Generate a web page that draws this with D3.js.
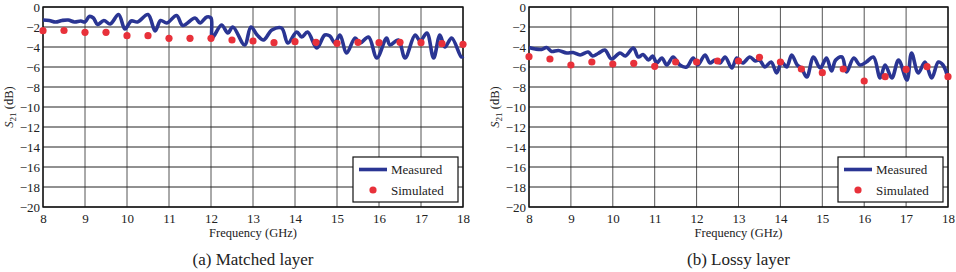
<!DOCTYPE html>
<html>
<head>
<meta charset="utf-8">
<script src="https://cdn.jsdelivr.net/npm/d3@7"></script>
<style>
  body { margin: 0; background: #fff; }
  svg { display: block; }
  svg text { font-family: "Liberation Serif", "Times New Roman", "DejaVu Serif", serif; }
</style>
</head>
<body>
<div id="chart"></div>
<script>
// frequency ticks and dB ticks
const freqTicks = [8, 9, 10, 11, 12, 13, 14, 15, 16, 17, 18];
const dbTicks = [0, -2, -4, -6, -8, -10, -12, -14, -16, -18, -20];

// simulated points every 0.5 GHz
const simFreq = [8, 8.5, 9, 9.5, 10, 10.5, 11, 11.5, 12, 12.5, 13, 13.5, 14, 14.5, 15, 15.5, 16, 16.5, 17, 17.5, 18];
const matchedSim = [-2.37, -2.35, -2.53, -2.53, -2.87, -2.87, -3.13, -3.13, -3.13, -3.3, -3.4, -3.57, -3.47, -3.53, -3.63, -3.53, -3.57, -3.53, -3.57, -3.67, -3.73];
const lossySim = [-4.97, -5.2, -5.8, -5.5, -5.7, -5.63, -5.93, -5.5, -5.5, -5.4, -5.4, -5.03, -5.5, -6.2, -6.57, -6.2, -7.4, -6.97, -6.23, -5.97, -6.97];

// measured traces
const matchedFreq = [8.0, 8.15, 8.3, 8.45, 8.6, 8.75, 8.9, 9.0, 9.1, 9.2, 9.3, 9.45, 9.6, 9.8, 9.95, 10.1, 10.25, 10.5, 10.67, 10.8, 10.95, 11.18, 11.33, 11.62, 11.74, 11.9, 12.0, 12.03, 12.25, 12.4, 12.52, 12.8, 12.95, 13.1, 13.25, 13.45, 13.68, 13.83, 14.04, 14.16, 14.3, 14.52, 14.71, 14.83, 14.95, 15.07, 15.23, 15.43, 15.55, 15.75, 15.95, 16.18, 16.26, 16.46, 16.62, 16.86, 16.98, 17.14, 17.3, 17.45, 17.57, 17.73, 17.96, 18.0];
const matchedMeas = [-1.3, -1.35, -1.5, -1.35, -1.3, -1.5, -1.4, -1.5, -0.95, -1.1, -1.75, -1.35, -1.7, -0.75, -2.2, -1.4, -1.5, -0.75, -2.4, -1.35, -1.6, -0.85, -1.85, -1.1, -1.6, -1.0, -1.1, -3.1, -1.8, -2.6, -2.0, -3.8, -2.0, -2.8, -3.3, -2.3, -2.1, -3.6, -2.5, -3.0, -2.5, -4.1, -2.8, -2.9, -3.6, -2.8, -4.6, -3.1, -3.6, -3.0, -5.1, -3.1, -3.8, -3.3, -5.1, -2.8, -3.4, -2.6, -5.1, -2.8, -4.0, -3.1, -5.0, -4.9];

const lossyFreq = [8.0, 8.15, 8.3, 8.42, 8.54, 8.7, 8.9, 9.05, 9.22, 9.41, 9.52, 9.65, 9.81, 9.97, 10.17, 10.3, 10.49, 10.61, 10.72, 10.85, 10.95, 11.05, 11.17, 11.29, 11.44, 11.6, 11.76, 11.92, 12.03, 12.2, 12.32, 12.44, 12.56, 12.68, 12.84, 12.96, 13.1, 13.27, 13.4, 13.5, 13.63, 13.78, 13.91, 14.03, 14.15, 14.27, 14.4, 14.5, 14.63, 14.79, 14.95, 15.1, 15.22, 15.32, 15.47, 15.58, 15.75, 15.9, 16.05, 16.22, 16.38, 16.5, 16.66, 16.82, 17.02, 17.13, 17.29, 17.45, 17.61, 17.77, 17.88, 18.0];
const lossyMeas = [-4.05, -4.2, -4.25, -4.05, -4.45, -4.35, -4.6, -4.55, -4.8, -4.5, -4.9, -4.65, -4.3, -5.2, -4.6, -4.9, -4.1, -5.0, -4.75, -5.3, -4.9, -5.6, -5.1, -5.8, -5.0, -5.8, -6.0, -5.1, -5.8, -4.8, -5.6, -5.3, -5.6, -5.0, -6.1, -5.1, -5.6, -5.0, -5.4, -5.3, -6.0, -5.5, -6.6, -5.5, -6.0, -4.8, -5.8, -6.1, -7.0, -5.0, -6.1, -5.1, -6.4, -5.3, -5.0, -6.5, -5.1, -5.8, -5.5, -5.0, -7.1, -5.8, -7.1, -5.3, -7.3, -4.6, -6.6, -5.5, -7.1, -5.5, -5.8, -7.1];

const legendLabels = ['Measured', 'Simulated'];
const captions = ['(a) Matched layer', '(b) Lossy layer'];

const panels = [
    { left: 43, right: 463, freq: matchedFreq, meas: matchedMeas, sim: matchedSim, caption: captions[0] },
    { left: 529, right: 948, freq: lossyFreq, meas: lossyMeas, sim: lossySim, caption: captions[1] },
];

const width = 956;
const height = 272;
const plotTop = 7;
const plotBottom = 207;
const serif = '"Liberation Serif", "Times New Roman", serif';
const blue = '#2a3593';
const red = '#e8313a';

const svg = d3.select('#chart')
    .append('svg')
    .attr('width', width)
    .attr('height', height)
    .attr('font-family', serif);

panels.forEach(p => {
    const x = d3.scaleLinear().domain([8, 18]).range([p.left, p.right]);
    const y = d3.scaleLinear().domain([-20, 0]).range([plotBottom, plotTop]);
    const g = svg.append('g');

    // grid
    g.append('g')
        .selectAll('line')
        .data(freqTicks)
        .join('line')
        .attr('x1', d => x(d)).attr('x2', d => x(d))
        .attr('y1', plotTop).attr('y2', plotBottom)
        .attr('stroke', '#555')
        .attr('stroke-width', 1);
    g.append('g')
        .selectAll('line')
        .data(dbTicks)
        .join('line')
        .attr('x1', p.left).attr('x2', p.right)
        .attr('y1', d => y(d)).attr('y2', d => y(d))
        .attr('stroke', '#222')
        .attr('stroke-width', 1);

    // axes (labels only, frame drawn separately)
    const xAxis = g.append('g')
        .attr('transform', `translate(0,${plotBottom})`)
        .call(d3.axisBottom(x).tickValues(freqTicks).tickSize(0).tickPadding(7));
    const yAxis = g.append('g')
        .attr('transform', `translate(${p.left},0)`)
        .call(d3.axisLeft(y).tickValues(dbTicks).tickSize(0).tickPadding(3));
    [xAxis, yAxis].forEach(a => {
        a.attr('font-family', serif).attr('font-size', 13);
        a.select('.domain').remove();
        a.selectAll('text').attr('fill', '#222');
    });

    g.append('rect')
        .attr('x', p.left).attr('y', plotTop)
        .attr('width', p.right - p.left).attr('height', plotBottom - plotTop)
        .attr('fill', 'none')
        .attr('stroke', '#111')
        .attr('stroke-width', 1.4);

    // measured
    const line = d3.line()
        .x((d, i) => x(p.freq[i]))
        .y(d => y(d))
        .curve(d3.curveCatmullRom.alpha(0.5));
    g.append('path')
        .datum(p.meas)
        .attr('d', line)
        .attr('fill', 'none')
        .attr('stroke', blue)
        .attr('stroke-width', 3.6)
        .attr('stroke-linejoin', 'round');

    // simulated
    g.append('g')
        .selectAll('circle')
        .data(p.sim)
        .join('circle')
        .attr('cx', (d, i) => x(simFreq[i]))
        .attr('cy', d => y(d))
        .attr('r', 3.6)
        .attr('fill', red);

    // labels
    g.append('text')
        .attr('x', (p.left + p.right) / 2)
        .attr('y', 237)
        .attr('text-anchor', 'middle')
        .attr('font-size', 12.5)
        .attr('fill', '#222')
        .text('Frequency (GHz)');

    const yl = g.append('text')
        .attr('transform', `translate(${p.left - 30},${(plotTop + plotBottom) / 2}) rotate(-90)`)
        .attr('text-anchor', 'middle')
        .attr('font-size', 12.5)
        .attr('fill', '#222');
    yl.append('tspan').attr('font-style', 'italic').text('S');
    yl.append('tspan').attr('font-size', 9).attr('dy', 3).text('21');
    yl.append('tspan').attr('dy', -3).text(' (dB)');

    g.append('text')
        .attr('x', (p.left + p.right) / 2)
        .attr('y', 265)
        .attr('text-anchor', 'middle')
        .attr('font-size', 17)
        .attr('fill', '#222')
        .text(p.caption);

    // legend
    const lx = p.right - 110;
    const leg = g.append('g').attr('transform', `translate(${lx},157)`);
    leg.append('rect')
        .attr('width', 105).attr('height', 45)
        .attr('fill', '#fff')
        .attr('stroke', '#111')
        .attr('stroke-width', 1.2);
    leg.append('line')
        .attr('x1', 6).attr('x2', 34)
        .attr('y1', 12.5).attr('y2', 12.5)
        .attr('stroke', blue)
        .attr('stroke-width', 3.6);
    leg.append('circle')
        .attr('cx', 20).attr('cy', 33)
        .attr('r', 3.6)
        .attr('fill', red);
    leg.selectAll('text.lab')
        .data(legendLabels)
        .join('text')
        .attr('class', 'lab')
        .attr('x', 38)
        .attr('y', (d, i) => 17 + i * 21)
        .attr('font-size', 13)
        .attr('fill', '#222')
        .text(d => d);
});
</script>
</body>
</html>
